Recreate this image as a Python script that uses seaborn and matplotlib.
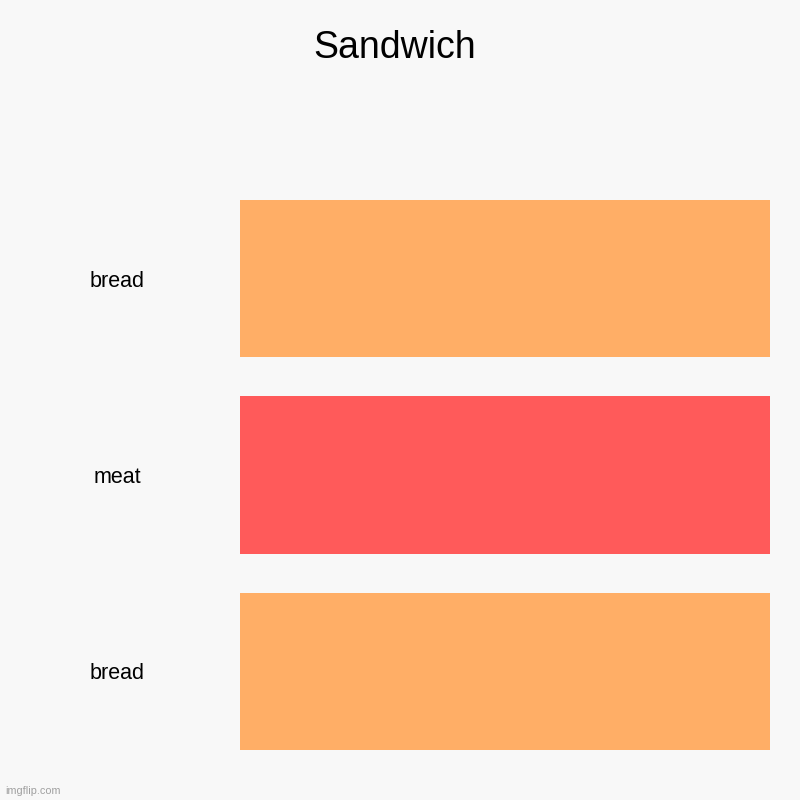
import matplotlib
matplotlib.use("Agg")
import matplotlib.pyplot as plt
import seaborn as sns
import pandas as pd

# DATA
layers = ["bread", "meat", "bread"]
amounts = [1, 1, 1]
layer_colors = ["#ffae66", "#ff5a5a", "#ffae66"]
chart_title = "Sandwich"

sns.set_style("white")
plt.rcParams["font.family"] = ["Liberation Sans", "DejaVu Sans"]

bg = "#f8f8f8"
fig = plt.figure(figsize=(8, 8), dpi=100, facecolor=bg)
ax = fig.add_axes([240 / 800, 50 / 800, 530 / 800, 550 / 800])
ax.set_facecolor(bg)

df = pd.DataFrame({"slot": list(range(len(layers))), "amount": amounts})
sns.barplot(data=df, x="amount", y="slot", hue="slot", orient="h",
            palette=layer_colors, legend=False, width=0.8, saturation=1,
            linewidth=0, ax=ax)

ax.set_xlim(0, max(amounts))
ax.set_ylim(2.4, -0.4)
ax.set_position([240 / 800, 50 / 800, 530 / 800, 550 / 800])
ax.set_xticks([])
ax.set_yticks(range(len(layers)))
ax.set_yticklabels(layers, fontsize=15.5, ha="center", color="#000000")
ax.tick_params(axis="y", length=0, pad=123 * 0.72)
ax.set_xlabel("")
ax.set_ylabel("")
for s in ax.spines.values():
    s.set_visible(False)

fig.text(395 / 800, 1 - 48 / 800, chart_title, fontsize=27,
         ha="center", va="center", color="#000000")
fig.text(5 / 800, 1 - 791 / 800, "imgflip.com", fontsize=7.8,
         ha="left", va="center", color="#a0a0a0")

fig.savefig("out.png", dpi=100, facecolor=bg)
